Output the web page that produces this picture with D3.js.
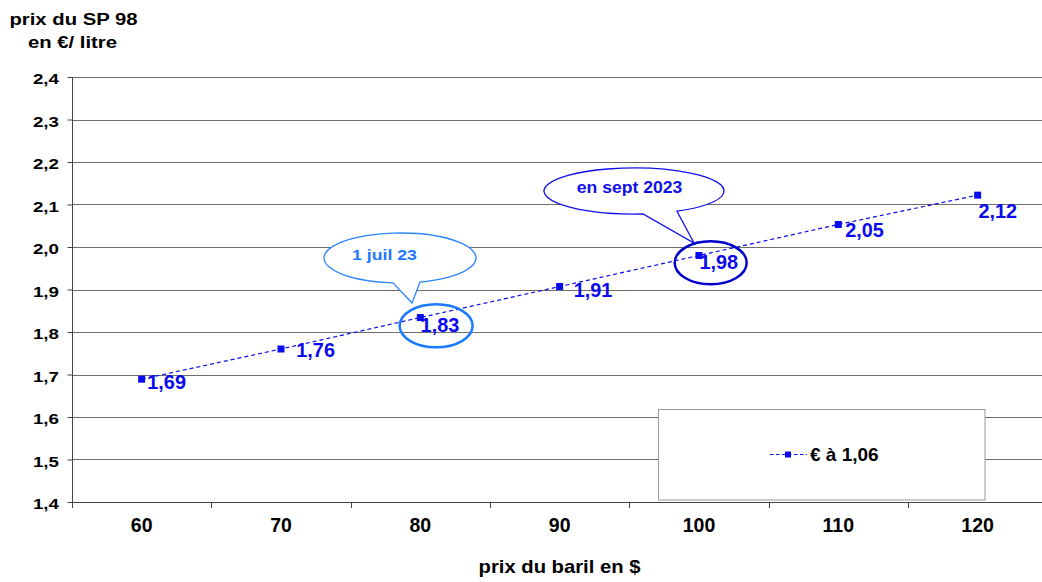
<!DOCTYPE html>
<html>
<head>
<meta charset="utf-8">
<script src="https://cdn.jsdelivr.net/npm/d3@7"></script>
<style>
  html, body { margin: 0; padding: 0; background: #ffffff; }
  svg { display: block; font-family: "Liberation Sans", Arial, sans-serif; }
</style>
</head>
<body>
<svg id="chart" width="1042" height="582"></svg>
<script>
// ---- data ----
const categories = [60, 70, 80, 90, 100, 110, 120];
const prices = [1.689, 1.760, 1.834, 1.907, 1.980, 2.053, 2.122];
const priceLabels = ["1,69", "1,76", "1,83", "1,91", "1,98", "2,05", "2,12"];
const yTicks = [1.4, 1.5, 1.6, 1.7, 1.8, 1.9, 2.0, 2.1, 2.2, 2.3, 2.4];
const seriesName = "€ à 1,06";
const yTitle = ["prix du SP 98", "en €/ litre"];
const xTitle = "prix du baril en $";
const callouts = [
  { text: "1 juil 23", category: 80 },
  { text: "en sept 2023", category: 100 }
];

// ---- layout ----
const labelOffsets = [[5.6, 10], [15.3, 7.7], [0.3, 14.3], [14, 10.4], [0.4, 13.3], [6.9, 12.4], [0.8, 23.3]];
const svg = d3.select("#chart");
const pLeft = 72, pRight = 1047.3, pTop = 77, pBottom = 502;
const x = d3.scaleBand().domain(categories).range([pLeft, pRight]).padding(0);
const y = d3.scaleLinear().domain([1.4, 2.4]).range([pBottom, pTop]);
const fmt = v => d3.format(".1f")(v).replace(".", ",");
const blue = "#0a0aee";

function stext(g, px, py, str, size, sx, anchor, color) {
  return g.append("text")
    .attr("transform", `translate(${px},${py}) scale(${sx},1)`)
    .attr("text-anchor", anchor || "start")
    .attr("font-size", size)
    .attr("font-weight", "bold")
    .attr("fill", color || "#000")
    .text(str);
}

// gridlines
svg.append("g").selectAll("line").data(yTicks.filter(t => t > 1.4)).join("line")
  .attr("x1", pLeft).attr("x2", pRight)
  .attr("y1", d => Math.round(y(d)) + 0.5).attr("y2", d => Math.round(y(d)) + 0.5)
  .attr("stroke", "#6e6e6e").attr("stroke-width", 1);

// y axis
const yAxis = svg.append("g").attr("transform", `translate(${pLeft + 0.5},0)`)
  .call(d3.axisLeft(y).tickValues(yTicks).tickSize(5).tickFormat(""));
yAxis.selectAll("path, line").attr("stroke", "#444");
yAxis.select("path").attr("d", `M0,${pTop}V${pBottom}`);
yTicks.forEach(t => stext(svg, 59, y(t) + 7, fmt(t), 15, 1.25, "end"));

// x axis
const xAxis = svg.append("g").attr("transform", `translate(0,${pBottom + 0.5})`)
  .call(d3.axisBottom(x).tickSize(0).tickFormat(""));
xAxis.select("path").attr("stroke", "#444").attr("d", `M${pLeft},0H${pRight}`);
const bounds = categories.map(c => x(c)).concat([pRight]);
svg.append("g").selectAll("line").data(bounds).join("line")
  .attr("x1", d => Math.round(d) + 0.5).attr("x2", d => Math.round(d) + 0.5)
  .attr("y1", pBottom).attr("y2", pBottom + 6)
  .attr("stroke", "#444");
categories.forEach(c => stext(svg, x(c) + x.bandwidth() / 2, 532, String(c), 19.5, 1.0, "middle"));

// titles
stext(svg, 73.5, 24.5, yTitle[0], 17.2, 1.18, "middle");
stext(svg, 72.5, 47.7, yTitle[1], 17.2, 1.18, "middle");
stext(svg, 559.5, 572.7, xTitle, 17.6, 1.15, "middle");

// legend box
svg.append("rect").attr("x", 658.5).attr("y", 409.5).attr("width", 326.5).attr("height", 90.5)
  .attr("fill", "#fff").attr("stroke", "#999").attr("stroke-width", 1);
svg.append("line").attr("x1", 770).attr("x2", 807).attr("y1", 454.5).attr("y2", 454.5)
  .attr("stroke", blue).attr("stroke-width", 1.2).attr("stroke-dasharray", "3.5,2.5");
svg.append("rect").attr("x", 785).attr("y", 451.5).attr("width", 6).attr("height", 6).attr("fill", blue);
stext(svg, 810, 461, seriesName, 19, 1.0, "start");

// series line
const cx = c => x(c) + x.bandwidth() / 2;
const pts = categories.map((c, i) => [cx(c), y(prices[i])]);
svg.append("path").attr("d", d3.line()(pts))
  .attr("fill", "none").attr("stroke", blue).attr("stroke-width", 1.2)
  .attr("stroke-dasharray", "4,3");
svg.append("g").selectAll("rect").data(pts).join("rect")
  .attr("x", d => d[0] - 3.5).attr("y", d => d[1] - 3.5)
  .attr("width", 7).attr("height", 7).attr("fill", blue);

// data labels
pts.forEach((p, i) => {
  stext(svg, p[0] + labelOffsets[i][0], p[1] + labelOffsets[i][1], priceLabels[i], 19.5, 1.02, "start", blue);
});

// callout bubbles
function calloutPath(ecx, ecy, rx, ry, a1, a2, tip) {
  const py = ax => ecy + ry * Math.sqrt(Math.max(0, 1 - ((ax - ecx) / rx) ** 2));
  return `M${a2},${py(a2)} A${rx},${ry} 0 1 0 ${a1},${py(a1)} L${tip[0]},${tip[1]} Z`;
}
const c1 = callouts[0], c2 = callouts[1];
const i1 = categories.indexOf(c1.category), i2 = categories.indexOf(c2.category);

// callout 1
svg.append("path").attr("d", calloutPath(400, 258, 76, 25, 393, 420, [412, 303]))
  .attr("fill", "#fff").attr("stroke", "#2b84ff").attr("stroke-width", 1.3);
stext(svg, 384.5, 260, c1.text, 15, 1.18, "middle", "#1f78ff");
svg.append("ellipse").attr("cx", pts[i1][0] + 15.8).attr("cy", pts[i1][1] + 8.3).attr("rx", 36.5).attr("ry", 21.5)
  .attr("fill", "none").attr("stroke", "#1a7aff").attr("stroke-width", 2.5);

// callout 2
svg.append("path").attr("d", calloutPath(634, 191, 90, 23, 643, 677, [694, 243]))
  .attr("fill", "#fff").attr("stroke", "#1010e8").attr("stroke-width", 1.3);
stext(svg, 629.5, 193, c2.text, 16, 1.1, "middle", "#1010e8");
svg.append("ellipse").attr("cx", pts[i2][0] + 11.7).attr("cy", pts[i2][1] + 7.3).attr("rx", 36).attr("ry", 21.5)
  .attr("fill", "none").attr("stroke", "#0000cc").attr("stroke-width", 2.5);
</script>
</body>
</html>
